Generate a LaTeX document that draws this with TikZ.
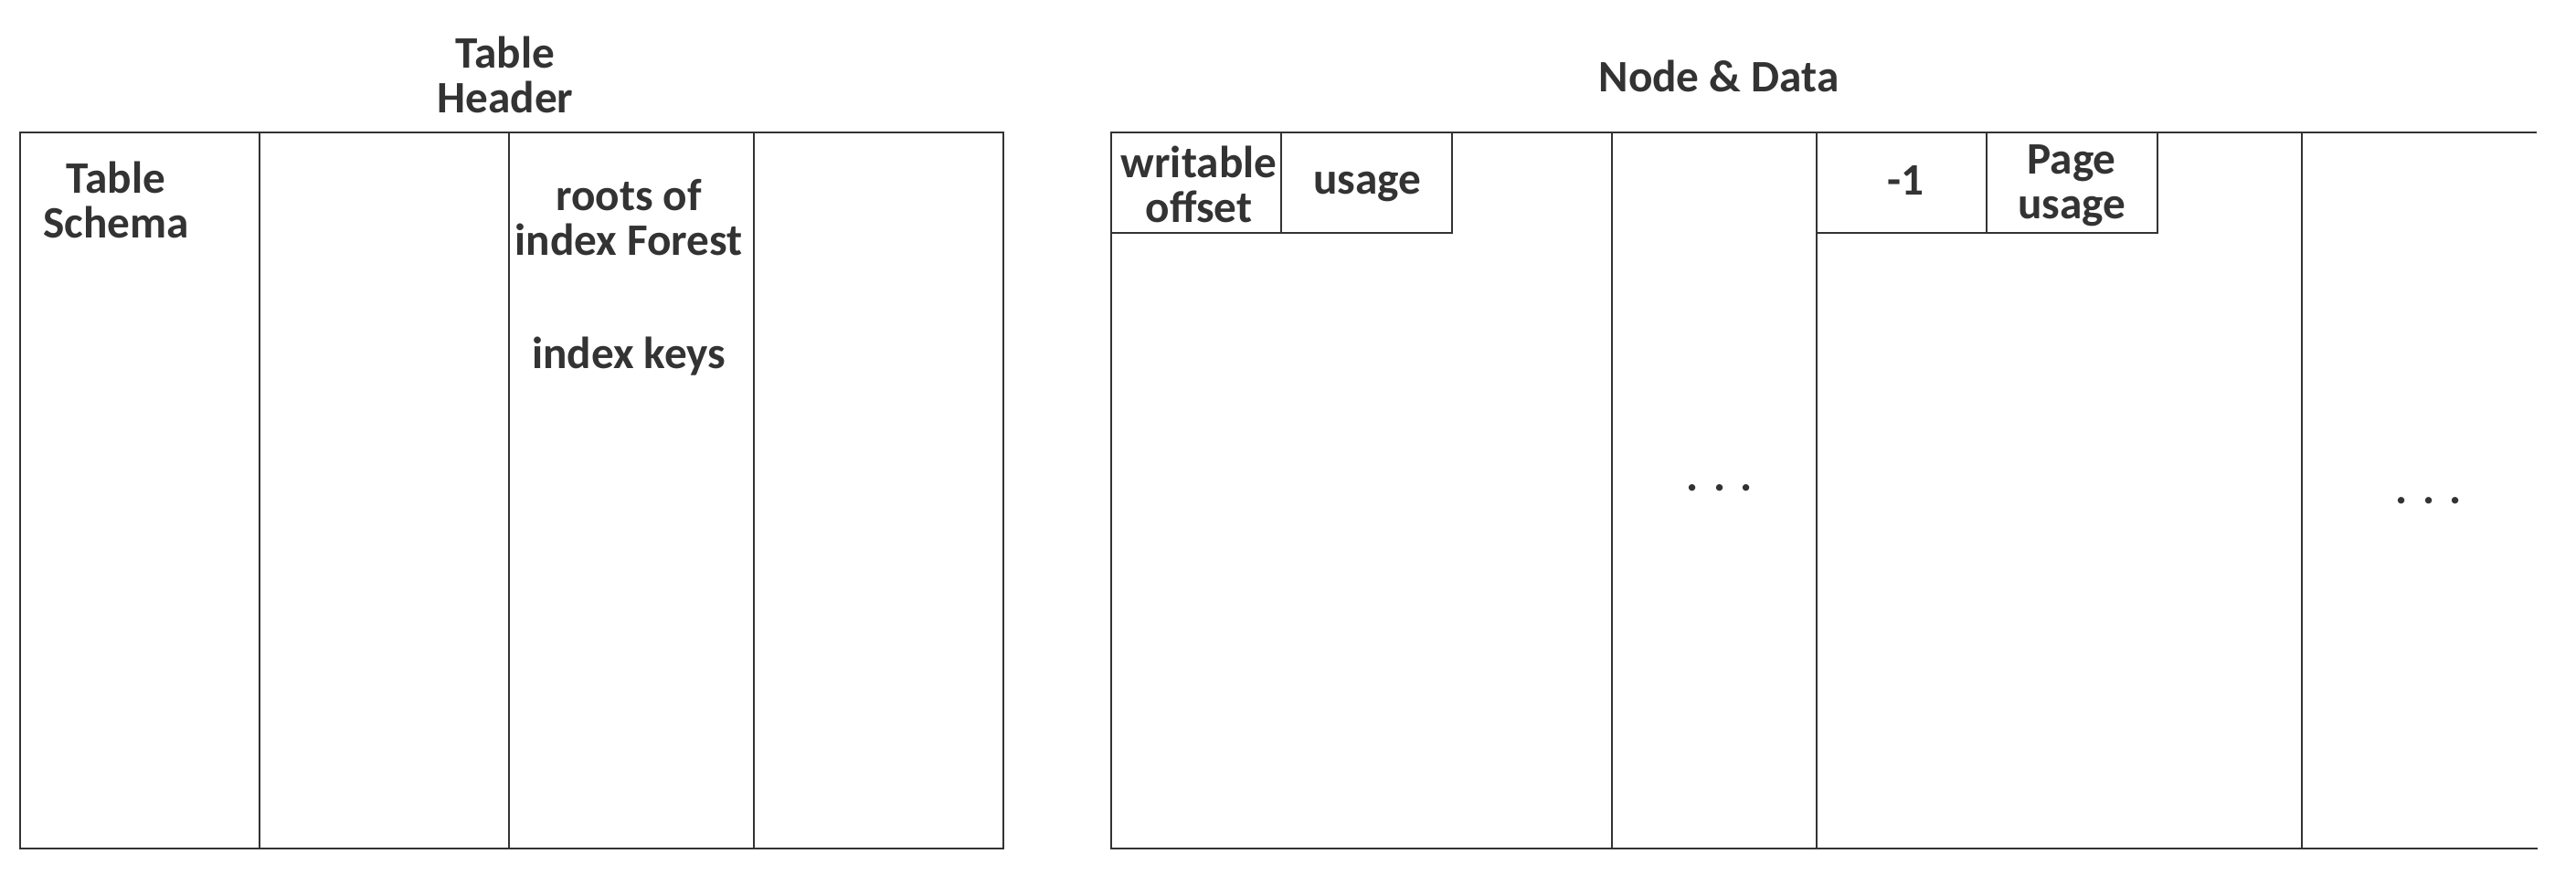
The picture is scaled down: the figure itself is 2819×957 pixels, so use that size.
\documentclass[tikz,border=0pt]{standalone}
\usepackage{fontspec}
\setmainfont{Carlito}
\definecolor{ink}{HTML}{333333}
\tikzset{
	lbl/.style={text=ink,font=\fontsize{14}{13.9}\selectfont\bfseries,align=center,inner sep=0pt},
	rim/.style={draw=ink,line width=.8pt},
	sep/.style={draw=ink,line width=.6pt}
}

\begin{document}
\begin{tikzpicture}[x=.01cm,y=-.01cm]
				\useasboundingbox (0,0) rectangle (2819,957);

				% table header block
				\draw[rim] (22,145) rectangle (1098,929);
				\foreach \cx in {284,557,825}
					\draw[sep] (\cx,145) -- (\cx,929);

				% node and data block
				\draw[rim] (2776,145) -- (1216,145) -- (1216,929) -- (2777,929);
				\foreach \cx in {1764,1988,2519}
					\draw[sep] (\cx,145) -- (\cx,929);
				\draw[sep] (1216,255) -- (1589,255) -- (1589,145) (1402,145) -- (1402,255);
				\draw[sep] (1988,255) -- (2361,255) -- (2361,145) (2174,145) -- (2174,255);

				\node[lbl] (hdr) at (553,82) {Table\\Header};
				\node[lbl] (nd) at (1881,83) {Node \& Data};
				\node[lbl] (schema) at (127,219) {Table\\Schema};
				\node[lbl] (roots) at (688,238) {roots of\\index Forest};
				\node[lbl] (keys) at (688,390) {index keys};
				\node[lbl] (woff) at (1312,202) {writable\\offset};
				\node[lbl] (use) at (1496,204) {usage};
				\node[lbl] (neg) at (2085,198) {-1};
				\node[lbl] (puse) at (2267,203) {Page\\usage};
				\node[lbl,anchor=base] (dotsa) at (1882,537) {.\,\,.\,\,.};
				\node[lbl,anchor=base] (dotsb) at (2658,551) {.\,\,.\,\,.};
			\end{tikzpicture}
\end{document}
